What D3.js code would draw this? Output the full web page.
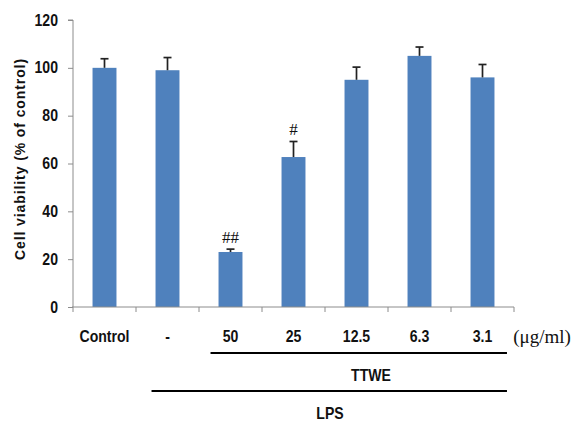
<!DOCTYPE html>
<html>
<head>
<meta charset="utf-8">
<script src="https://cdn.jsdelivr.net/npm/d3@7/dist/d3.min.js"></script>
<style>
  html, body { margin: 0; padding: 0; background: #fff; }
  svg { display: block; }
</style>
</head>
<body>
<svg id="chart" width="580" height="421"></svg>
<script>
const categories = ["Control", "-", "50", "25", "12.5", "6.3", "3.1"];
const values = [100, 99, 23, 62.7, 95, 105, 96];
const errors = [3.8, 5.3, 1.2, 6.5, 5.3, 3.7, 5.4];
const marks = ["", "", "##", "#", "", "", ""];
const yTicks = [0, 20, 40, 60, 80, 100, 120];

(function () {
const svg = d3.select("#chart");
const mLeft = 73, mRight = 514, mTop = 20, mBottom = 307;
const sans = "Liberation Sans, Arial, sans-serif";
const serif = "Liberation Serif, Times New Roman, serif";
const squeeze = 0.88;

const x = d3.scaleBand().domain(categories).range([mLeft, mRight])
  .paddingInner(0.62).paddingOuter(0.31);
const y = d3.scaleLinear().domain([0, 120]).range([mBottom, mTop]);

const barColor = "#4F81BD";
const axisColor = "#8c8c8c";

// bars
svg.append("g").selectAll("rect").data(values).join("rect")
  .attr("x", (d, i) => x(categories[i]))
  .attr("y", d => y(d))
  .attr("width", x.bandwidth())
  .attr("height", d => y(0) - y(d))
  .attr("fill", barColor);

// error bars
const eg = svg.append("g").attr("stroke", "#222").attr("stroke-width", 1.7);
values.forEach((v, i) => {
  const cx = x(categories[i]) + x.bandwidth() / 2;
  eg.append("line").attr("x1", cx).attr("x2", cx).attr("y1", y(v)).attr("y2", y(v + errors[i]));
  eg.append("line").attr("x1", cx - 4).attr("x2", cx + 4).attr("y1", y(v + errors[i])).attr("y2", y(v + errors[i]));
});

// significance marks
svg.append("g").selectAll("text").data(marks).join("text")
  .attr("x", (d, i) => x(categories[i]) + x.bandwidth() / 2)
  .attr("y", (d, i) => y(values[i] + errors[i]) - 6)
  .attr("text-anchor", "middle")
  .attr("font-family", serif)
  .attr("font-size", 17)
  .attr("fill", "#111")
  .text(d => d);

// y axis
const yAxis = d3.axisLeft(y).tickValues(yTicks).tickSize(5).tickPadding(10);
const yg = svg.append("g").attr("transform", `translate(${mLeft},0)`).call(yAxis);
yg.select(".domain").attr("stroke", axisColor).attr("d", `M-5,${mTop}H0V${mBottom}`);
yg.selectAll(".tick line").attr("stroke", axisColor);
yg.selectAll(".tick text")
  .attr("x", null)
  .attr("transform", `translate(-15,0) scale(${squeeze},1)`)
  .attr("font-family", sans)
  .attr("font-weight", "bold")
  .attr("font-size", 16)
  .attr("fill", "#111");

// x axis
const xg = svg.append("g").attr("transform", `translate(0,${mBottom})`);
xg.append("line").attr("x1", mLeft - 1).attr("x2", mRight).attr("y1", 0).attr("y2", 0).attr("stroke", axisColor);
const step = x.step();
const boundaries = d3.range(categories.length + 1).map(i => mLeft + i * step);
xg.selectAll("line.tk").data(boundaries).join("line").attr("class", "tk")
  .attr("x1", d => d).attr("x2", d => d).attr("y1", 0).attr("y2", 5).attr("stroke", axisColor);

function label(txt, cx, by) {
  svg.append("text")
    .attr("transform", `translate(${cx},${by}) scale(${squeeze},1)`)
    .attr("text-anchor", "middle")
    .attr("font-family", sans)
    .attr("font-weight", "bold")
    .attr("font-size", 16)
    .attr("fill", "#111")
    .text(txt);
}

// x labels
categories.forEach(c => label(c, x(c) + x.bandwidth() / 2, 342));

svg.append("text").attr("x", 542).attr("y", 343).attr("text-anchor", "middle")
  .attr("font-family", serif)
  .attr("font-size", 19).attr("fill", "#111").text("(μg/ml)");

// group lines
const lineEnd = x("3.1") + x.bandwidth() + 12.5;
svg.append("line").attr("x1", x("50") - 8).attr("x2", lineEnd).attr("y1", 353).attr("y2", 353)
  .attr("stroke", "#000").attr("stroke-width", 2.2);
label("TTWE", 371, 381);
svg.append("line").attr("x1", x("-") - 4).attr("x2", lineEnd).attr("y1", 391).attr("y2", 391)
  .attr("stroke", "#000").attr("stroke-width", 2.2);
label("LPS", 330, 419);

// y title
svg.append("text")
  .attr("transform", `translate(25,159) rotate(-90)`)
  .attr("text-anchor", "middle")
  .attr("font-family", sans)
  .attr("font-weight", "bold")
  .attr("font-size", 14)
  .attr("letter-spacing", 0.9)
  .attr("fill", "#111")
  .text("Cell viability (% of control)");
})();
</script>
</body>
</html>
